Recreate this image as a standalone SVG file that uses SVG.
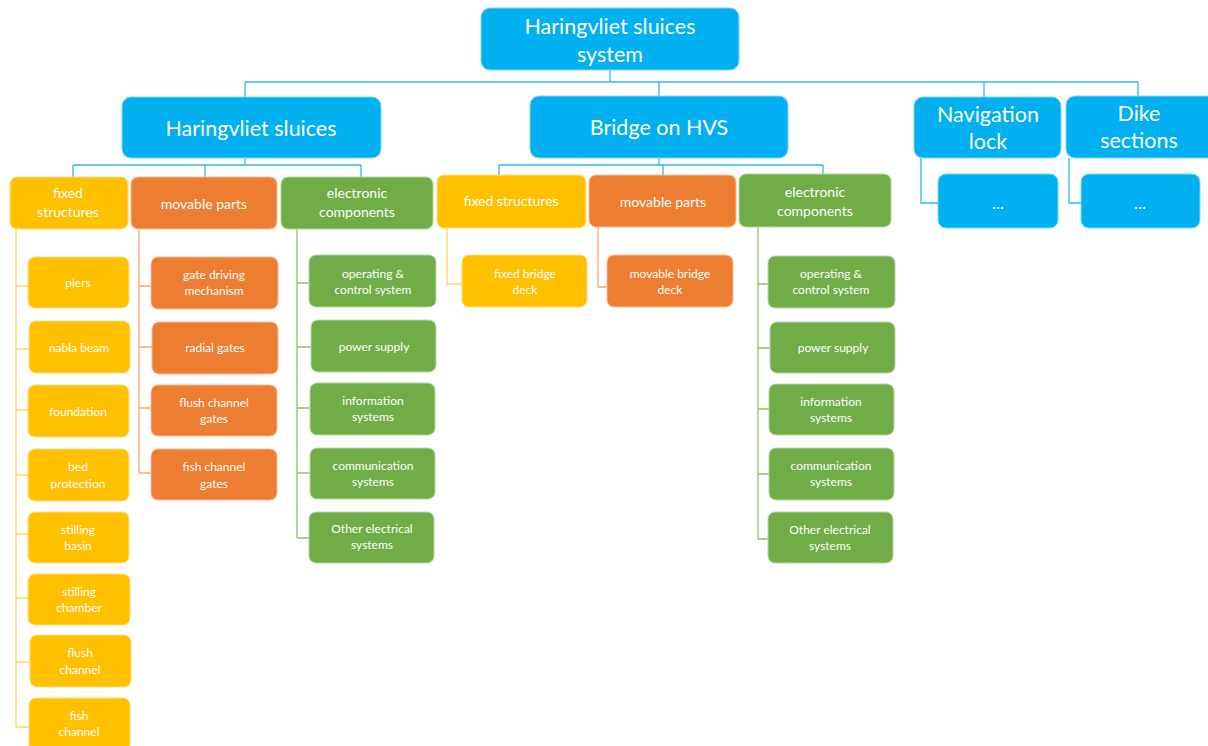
<svg xmlns="http://www.w3.org/2000/svg" width="1208" height="746" viewBox="0 0 1208 746">
  <style>
    text { font-family: "Lato", "Liberation Sans", sans-serif; fill: #ffffff; text-anchor: middle; dominant-baseline: central; transform: translateY(-1px); }
    .blue { fill: #00b0f0; stroke: #7fd7f7; stroke-width: 1; }
    .yel { fill: #ffc000; stroke: #ffdf80; stroke-width: 1; }
    .org { fill: #ed7d31; stroke: #f6be98; stroke-width: 1; }
    .grn { fill: #70ad47; stroke: #b7d6a3; stroke-width: 1; }
    .big { font-size: 21.5px; }
    .mid { font-size: 14px; }
    .sm { font-size: 12px; }
    .dots { font-size: 17px; }
    .cb { stroke: #2fb7ea; stroke-width: 1.3; fill: none; }
    .cy { stroke: #ffd45c; stroke-width: 1.3; fill: none; }
    .co { stroke: #f3a977; stroke-width: 1.3; fill: none; }
    .cg { stroke: #8cc06a; stroke-width: 1.3; fill: none; }
  </style>

  <!-- connectors -->
  <g id="connectors">
    <!-- root bus -->
    <path class="cb" d="M610 70 V82 M245 82 H1138 M245 82 V97 M659 82 V96 M984 82 V97 M1138 82 V96"/>
    <!-- Haringvliet sluices bus -->
    <path class="cb" d="M245 158 V165 M73 165 H361 M73 165 V177 M205 165 V177 M361 165 V177"/>
    <!-- Bridge bus -->
    <path class="cb" d="M659 158 V165 M499 165 H823 M499 165 V175 M663 165 V175 M823 165 V174"/>
    <!-- Navigation lock / Dike sections -->
    <path class="cb" d="M921 158 V203 H938 M1069 158 V203 H1081"/>
    <!-- fixed structures children -->
    <path class="cy" d="M16 229 V727 M16 286 H28 M16 349 H29 M16 410 H28 M16 475 H28 M16 534 H28 M16 598 H28 M16 662 H30 M16 727 H29"/>
    <!-- movable parts children -->
    <path class="co" d="M139 229 V473 M139 286 H151 M139 347 H152 M139 408 H151 M139 473 H151"/>
    <!-- electronic components children -->
    <path class="cg" d="M297 229 V538 M297 283 H309 M297 347 H311 M297 408 H310 M297 473 H310 M297 538 H309"/>
    <!-- bridge children -->
    <path class="cy" d="M447 228 V284 H462"/>
    <path class="co" d="M598 227 V287 H607"/>
    <path class="cg" d="M758 227 V539 M758 284 H768 M758 348 H770 M758 409 H769 M758 474 H769 M758 539 H768"/>
  </g>

  <!-- root -->
  <g id="root">
    <rect class="blue" x="481" y="8" width="258" height="62" rx="9"/>
    <text class="big" x="610" y="27">Haringvliet sluices</text>
    <text class="big" x="610" y="55">system</text>
  </g>

  <!-- level 1 -->
  <g id="haringvliet-sluices">
    <rect class="blue" x="122" y="97" width="259" height="61" rx="9"/>
    <text class="big" x="251" y="129">Haringvliet sluices</text>
  </g>
  <g id="bridge-on-hvs">
    <rect class="blue" x="530" y="96" width="258" height="62" rx="9"/>
    <text class="big" x="659" y="128">Bridge on HVS</text>
  </g>
  <g id="navigation-lock">
    <rect class="blue" x="914" y="97" width="147" height="61" rx="9"/>
    <text class="big" x="988" y="115">Navigation</text>
    <text class="big" x="988" y="142">lock</text>
  </g>
  <g id="dike-sections">
    <rect class="blue" x="1066" y="96" width="150" height="62" rx="9"/>
    <text class="big" x="1139" y="114">Dike</text>
    <text class="big" x="1139" y="141">sections</text>
  </g>
  <g id="nav-lock-more">
    <rect class="blue" x="938" y="174" width="120" height="54" rx="8"/>
    <text class="dots" x="998" y="203">...</text>
  </g>
  <g id="dike-more">
    <rect class="blue" x="1081" y="174" width="119" height="54" rx="8"/>
    <text class="dots" x="1140" y="203">...</text>
  </g>

  <!-- level 2: Haringvliet sluices -->
  <g id="hs-fixed">
    <rect class="yel" x="10" y="177" width="118" height="52" rx="7"/>
    <text class="mid" x="68" y="193">fixed</text>
    <text class="mid" x="68" y="212">structures</text>
  </g>
  <g id="hs-movable">
    <rect class="org" x="131" y="177" width="146" height="52" rx="7"/>
    <text class="mid" x="204" y="204">movable parts</text>
  </g>
  <g id="hs-electronic">
    <rect class="grn" x="281" y="177" width="152" height="52" rx="7"/>
    <text class="mid" x="357" y="193">electronic</text>
    <text class="mid" x="357" y="212">components</text>
  </g>

  <!-- level 2: Bridge on HVS -->
  <g id="br-fixed">
    <rect class="yel" x="437" y="175" width="149" height="53" rx="7"/>
    <text class="mid" x="511" y="201">fixed structures</text>
  </g>
  <g id="br-movable">
    <rect class="org" x="589" y="175" width="147" height="52" rx="7"/>
    <text class="mid" x="663" y="202">movable parts</text>
  </g>
  <g id="br-electronic">
    <rect class="grn" x="739" y="174" width="152" height="53" rx="7"/>
    <text class="mid" x="815" y="192">electronic</text>
    <text class="mid" x="815" y="211">components</text>
  </g>

  <!-- fixed structures items -->
  <g id="piers">
    <rect class="yel" x="28" y="257" width="101" height="51" rx="7"/>
    <text class="sm" x="78" y="283">piers</text>
  </g>
  <g id="nabla-beam">
    <rect class="yel" x="29" y="321" width="101" height="52" rx="7"/>
    <text class="sm" x="79" y="348">nabla beam</text>
  </g>
  <g id="foundation">
    <rect class="yel" x="28" y="385" width="101" height="52" rx="7"/>
    <text class="sm" x="78" y="412">foundation</text>
  </g>
  <g id="bed-protection">
    <rect class="yel" x="28" y="449" width="101" height="52" rx="7"/>
    <text class="sm" x="78" y="467">bed</text>
    <text class="sm" x="78" y="484">protection</text>
  </g>
  <g id="stilling-basin">
    <rect class="yel" x="28" y="512" width="101" height="51" rx="7"/>
    <text class="sm" x="78" y="530">stilling</text>
    <text class="sm" x="78" y="546">basin</text>
  </g>
  <g id="stilling-chamber">
    <rect class="yel" x="28" y="574" width="102" height="51" rx="7"/>
    <text class="sm" x="79" y="592">stilling</text>
    <text class="sm" x="79" y="608">chamber</text>
  </g>
  <g id="flush-channel">
    <rect class="yel" x="30" y="635" width="101" height="52" rx="7"/>
    <text class="sm" x="80" y="653">flush</text>
    <text class="sm" x="80" y="670">channel</text>
  </g>
  <g id="fish-channel">
    <rect class="yel" x="29" y="698" width="101" height="54" rx="7"/>
    <text class="sm" x="79" y="716">fish</text>
    <text class="sm" x="79" y="732">channel</text>
  </g>

  <!-- movable parts items -->
  <g id="gate-driving">
    <rect class="org" x="151" y="257" width="127" height="52" rx="7"/>
    <text class="sm" x="214" y="275">gate driving</text>
    <text class="sm" x="214" y="291">mechanism</text>
  </g>
  <g id="radial-gates">
    <rect class="org" x="152" y="322" width="126" height="52" rx="7"/>
    <text class="sm" x="215" y="348">radial gates</text>
  </g>
  <g id="flush-channel-gates">
    <rect class="org" x="151" y="385" width="126" height="51" rx="7"/>
    <text class="sm" x="214" y="403">flush channel</text>
    <text class="sm" x="214" y="419">gates</text>
  </g>
  <g id="fish-channel-gates">
    <rect class="org" x="151" y="449" width="126" height="51" rx="7"/>
    <text class="sm" x="214" y="467">fish channel</text>
    <text class="sm" x="214" y="484">gates</text>
  </g>

  <!-- electronic components items (sluices) -->
  <g id="hs-operating">
    <rect class="grn" x="309" y="255" width="127" height="52" rx="7"/>
    <text class="sm" x="373" y="274">operating &amp;</text>
    <text class="sm" x="373" y="290">control system</text>
  </g>
  <g id="hs-power">
    <rect class="grn" x="311" y="320" width="125" height="52" rx="7"/>
    <text class="sm" x="374" y="347">power supply</text>
  </g>
  <g id="hs-information">
    <rect class="grn" x="310" y="383" width="125" height="52" rx="7"/>
    <text class="sm" x="373" y="401">information</text>
    <text class="sm" x="373" y="417">systems</text>
  </g>
  <g id="hs-communication">
    <rect class="grn" x="310" y="448" width="125" height="51" rx="7"/>
    <text class="sm" x="373" y="466">communication</text>
    <text class="sm" x="373" y="482">systems</text>
  </g>
  <g id="hs-other">
    <rect class="grn" x="309" y="512" width="125" height="51" rx="7"/>
    <text class="sm" x="372" y="529">Other electrical</text>
    <text class="sm" x="372" y="545">systems</text>
  </g>

  <!-- bridge items -->
  <g id="fixed-bridge-deck">
    <rect class="yel" x="462" y="255" width="125" height="52" rx="7"/>
    <text class="sm" x="525" y="274">fixed bridge</text>
    <text class="sm" x="525" y="290">deck</text>
  </g>
  <g id="movable-bridge-deck">
    <rect class="org" x="607" y="255" width="126" height="52" rx="7"/>
    <text class="sm" x="670" y="274">movable bridge</text>
    <text class="sm" x="670" y="290">deck</text>
  </g>
  <g id="br-operating">
    <rect class="grn" x="768" y="256" width="127" height="52" rx="7"/>
    <text class="sm" x="831" y="274">operating &amp;</text>
    <text class="sm" x="831" y="290">control system</text>
  </g>
  <g id="br-power">
    <rect class="grn" x="770" y="322" width="125" height="51" rx="7"/>
    <text class="sm" x="833" y="348">power supply</text>
  </g>
  <g id="br-information">
    <rect class="grn" x="769" y="384" width="125" height="51" rx="7"/>
    <text class="sm" x="831" y="402">information</text>
    <text class="sm" x="831" y="418">systems</text>
  </g>
  <g id="br-communication">
    <rect class="grn" x="769" y="448" width="125" height="52" rx="7"/>
    <text class="sm" x="831" y="466">communication</text>
    <text class="sm" x="831" y="482">systems</text>
  </g>
  <g id="br-other">
    <rect class="grn" x="768" y="512" width="125" height="51" rx="7"/>
    <text class="sm" x="830" y="530">Other electrical</text>
    <text class="sm" x="830" y="546">systems</text>
  </g>
</svg>
